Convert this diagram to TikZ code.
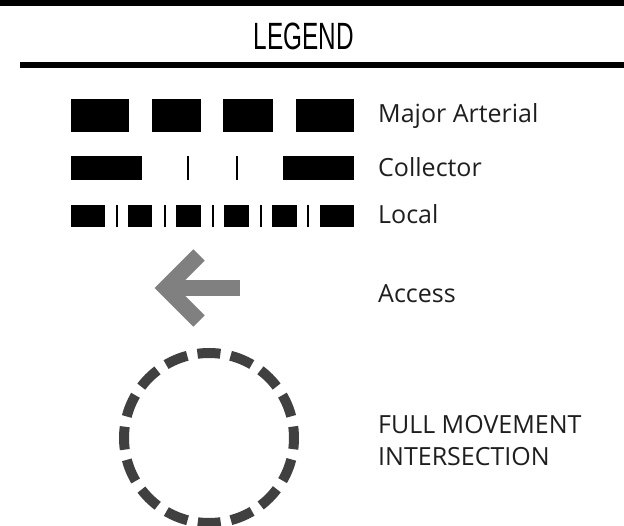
\documentclass[tikz,border=0pt]{standalone}
\usepackage{fontspec}
\setmainfont{Open Sans}
\newfontfamily\narrowfont[FakeStretch=0.64]{Liberation Sans}
\usetikzlibrary{positioning}
\definecolor{ink}{HTML}{000000}
\definecolor{txt}{HTML}{1E1E1E}
\definecolor{acc}{HTML}{808080}
\definecolor{ring}{HTML}{404040}

\begin{document}
\begin{tikzpicture}[x=1pt, y=-1pt,
    BAR/.style={fill=ink, draw=none},
    D/.style={fill=ink, draw=none},
    T/.style={draw=ink, line width=1.4pt},
    L/.style={anchor=base west, inner sep=0pt, font=\fontsize{25}{32}\selectfont, text=txt, align=left}
]
\useasboundingbox (0,0) rectangle (624,526);

% === HEADER ===
\fill[BAR] (0,0) rectangle (624,6);
\node[inner sep=0pt, anchor=base, font=\narrowfont\fontsize{38}{38}\selectfont] (title) at (304,50) {LEGEND};
\fill[BAR] (20,62) rectangle (624,68);

% === MAJOR ARTERIAL ===
\fill[D] (71,99) rectangle (129,132);
\fill[D] (152,99) rectangle (201,132);
\fill[D] (223,99) rectangle (273,132);
\fill[D] (296,99) rectangle (354,132);
\node[L] (major) at (378,123) {Major Arterial};

% === COLLECTOR ===
\fill[D] (71,156) rectangle (142,180);
\draw[T] (188,156) -- (188,180);
\draw[T] (237,156) -- (237,180);
\fill[D] (283,156) rectangle (354,180);
\node[L] (coll) at (378,177) {Collector};

% === LOCAL ===
\foreach \a/\b in {71/105, 128/152, 176/201, 224/249, 272/297, 320/354}
  \fill[D] (\a,205) rectangle (\b,227);
\foreach \t in {117, 165, 213, 261, 308}
  \draw[T] (\t,205) -- (\t,227);
\node[L] (local) at (378,224) {Local};

% === ACCESS ===
\coordinate (tip) at (166,288);
\coordinate (tail) at (240,288);
\draw[acc, line width=16pt, miter limit=4] (199,255) -- (tip) -- (199,321);
\draw[acc, line width=16pt] (tip) -- (tail);
\node[L] (acc) at (378,303) {Access};

% === FULL MOVEMENT INTERSECTION ===
\node[circle, minimum size=170pt, inner sep=0pt, draw=ring, line width=10pt,
      dash pattern=on 23pt off 10.4pt, dash phase=11.5pt] (fmi) at (209,438) {};
\node[L] (full) at (378,465) {FULL MOVEMENT\\INTERSECTION};

\end{tikzpicture}
\end{document}
